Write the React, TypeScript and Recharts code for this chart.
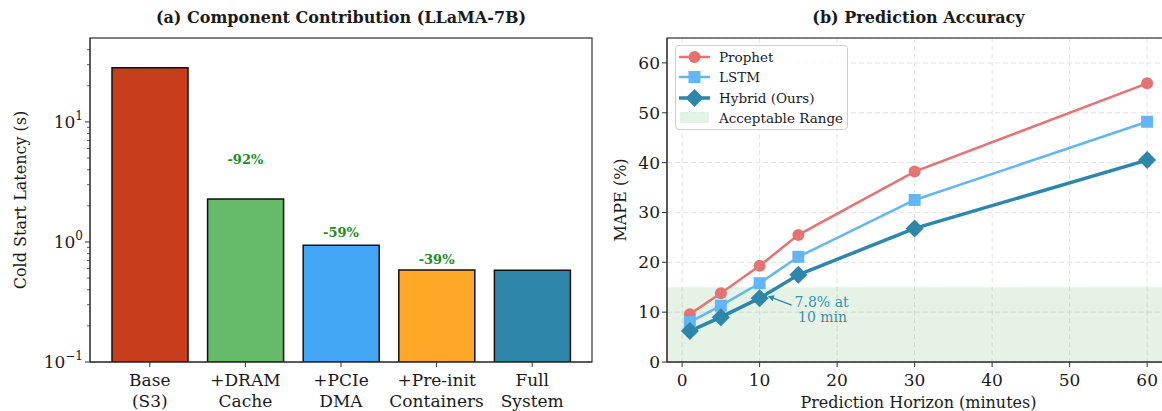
import React from 'react';
import {
  ComposedChart,
  Bar,
  Cell,
  Scatter,
  XAxis,
  YAxis,
  LineChart,
  Line,
  CartesianGrid,
  ReferenceArea,
  ReferenceDot,
  Legend,
  usePlotArea,
} from 'recharts';

const FONT = '"DejaVu Serif", serif';
const AXIS = '#333';
const TEXT = '#1a1a1a';

// (a) component contribution, LLaMA-7B
const stages = ['Base\n(S3)', '+DRAM\nCache', '+PCIe\nDMA', '+Pre-init\nContainers', 'Full\nSystem'];
const latency = [28.2, 2.28, 0.94, 0.585, 0.58];
const stageColors = ['#c73e1d', '#66bb6a', '#42a5f5', '#ffa726', '#2e86ab'];
const reduction = ['', '-92%', '-59%', '-39%', ''];
const reductionAt = [null, 4.9, 1.21, 0.71, null];
const majorTicks = [0.1, 1, 10];
const majorExp = ['\u22121', '0', '1'];
const minorTicks = [0.2, 0.3, 0.4, 0.5, 0.6, 0.7, 0.8, 0.9, 2, 3, 4, 5, 6, 7, 8, 9, 20, 30, 40];

// (b) prediction accuracy
const horizon = [1, 5, 10, 15, 30, 60];
const prophet = [9.6, 13.8, 19.3, 25.5, 38.2, 55.9];
const lstm = [8.0, 11.3, 15.8, 21.1, 32.5, 48.2];
const hybrid = [6.2, 9.0, 12.8, 17.5, 26.8, 40.5];
const acceptableMax = 15;
const xTicks = [0, 10, 20, 30, 40, 50, 60];
const yTicks = [0, 10, 20, 30, 40, 50, 60];
const xDomain = [-1.95, 62.95];

const barData = stages.map((name, i) => ({
  name,
  latency: latency[i],
  pct: reduction[i],
  pctAt: reductionAt[i],
}));

const lineData = horizon.map((h, i) => ({ h, prophet: prophet[i], lstm: lstm[i], hybrid: hybrid[i] }));

const series = [
  { key: 'prophet', name: 'Prophet', color: '#e57373', width: 2.5, marker: 'circle' },
  { key: 'lstm', name: 'LSTM', color: '#64b5f6', width: 2.5, marker: 'square' },
  { key: 'hybrid', name: 'Hybrid (Ours)', color: '#2e86ab', width: 3.5, marker: 'diamond' },
];

// box around the plot area (matplotlib spines)
const PlotFrame = () => {
  const area = usePlotArea();
  if (!area) return null;
  return <rect x={area.x} y={area.y} width={area.width} height={area.height} fill="none" stroke={AXIS} strokeWidth={1.2} />;
};

const Marker = ({ kind, cx, cy, color }: any) => {
  if (!Number.isFinite(cx) || !Number.isFinite(cy)) return null;
  if (kind === 'circle') return <circle cx={cx} cy={cy} r={6} fill={color} />;
  if (kind === 'square') return <rect x={cx - 6} y={cy - 6} width={12} height={12} fill={color} />;
  return <path d={`M${cx},${cy - 9}L${cx + 9},${cy}L${cx},${cy + 9}L${cx - 9},${cy}Z`} fill={color} />;
};

const LogTick = ({ x, y, payload }: any) => {
  const k = majorTicks.indexOf(payload.value);
  const major = k >= 0;
  return (
    <g>
      <line x1={x - (major ? 5 : 3)} x2={x} y1={y} y2={y} stroke={AXIS} strokeWidth={major ? 1 : 0.8} />
      {major && (
        <text x={x - 7} y={y + 6} textAnchor="end" fontSize={17} fill={TEXT}>
          10<tspan dy={-8} fontSize={12}>{majorExp[k]}</tspan>
        </text>
      )}
    </g>
  );
};

const StageTick = ({ x, y, payload }: any) => {
  const lines = String(payload.value).split('\n');
  return (
    <text x={x} y={y} textAnchor="middle" fontSize={17} fill={TEXT}>
      {lines.map((l, i) => (
        <tspan key={i} x={x} dy={i === 0 ? 17 : 21}>
          {l}
        </tspan>
      ))}
    </text>
  );
};

const PctLabel = (p: any) => {
  if (!p.payload || !p.payload.pct || !Number.isFinite(p.cy)) return <g />;
  return (
    <text x={p.cx} y={p.cy} textAnchor="middle" dominantBaseline="central" fontSize={13} fontWeight="bold" fill="#228b22">
      {p.payload.pct}
    </text>
  );
};

const Callout = (p: any) => {
  const { cx, cy } = p;
  if (!Number.isFinite(cx)) return <g />;
  const c = '#3a8fb7';
  return (
    <g>
      <line x1={cx + 32} y1={cy + 7} x2={cx + 11} y2={cy - 1} stroke="#2e86ab" strokeWidth={1.3} />
      <path d={`M${cx + 8},${cy - 2}L${cx + 15},${cy - 3}L${cx + 13},${cy + 3}Z`} fill="#2e86ab" />
      <text x={cx + 62} y={cy + 4} textAnchor="middle" dominantBaseline="central" fontSize={14} fill={c}>
        7.8% at
      </text>
      <text x={cx + 63} y={cy + 19} textAnchor="middle" dominantBaseline="central" fontSize={14} fill={c}>
        10 min
      </text>
    </g>
  );
};

const LegendBox = () => (
  <div
    style={{
      width: 171,
      height: 82,
      border: '1px solid #cfcfcf',
      borderRadius: 4,
      background: 'rgba(255,255,255,0.8)',
      fontFamily: FONT,
      fontSize: 13.5,
      color: TEXT,
      paddingTop: 1,
      boxSizing: 'content-box',
    }}
  >
    {series.map((s) => (
      <div key={s.key} style={{ display: 'flex', alignItems: 'center', height: 20.3 }}>
        <svg width={43} height={20}>
          <line x1={3} x2={34} y1={10} y2={10} stroke={s.color} strokeWidth={s.width} />
          <Marker kind={s.marker} cx={18.5} cy={10} color={s.color} />
        </svg>
        <span>{s.name}</span>
      </div>
    ))}
    <div style={{ display: 'flex', alignItems: 'center', height: 20.3 }}>
      <svg width={43} height={20}>
        <rect x={4} y={4} width={29} height={11} fill="#4caf50" fillOpacity={0.15} />
      </svg>
      <span>Acceptable Range</span>
    </div>
  </div>
);

const titleStyle: React.CSSProperties = {
  position: 'absolute',
  top: 8,
  fontSize: 16,
  fontWeight: 'bold',
  textAlign: 'center',
  lineHeight: '20px',
  color: TEXT,
};

const ComponentChart = () => (
  <div style={{ position: 'absolute', left: 0, top: 0 }}>
    <ComposedChart width={600} height={411} data={barData} margin={{ top: 38, right: 8, bottom: 0, left: 0 }}>
      <CartesianGrid vertical={false} yAxisId="grid" stroke="#e2e2e2" strokeDasharray="5 3" />
      <XAxis
        dataKey="name"
        padding={{ left: 12, right: 12 }}
        height={49}
        tickSize={5}
        interval={0}
        tick={<StageTick />}
        stroke={AXIS}
      />
      <YAxis
        scale="log"
        domain={[0.1, 50]}
        allowDataOverflow
        ticks={[...majorTicks, ...minorTicks]}
        interval={0}
        width={90}
        tickLine={false}
        tickSize={0}
        tickMargin={0}
        tick={<LogTick />}
        stroke={AXIS}
        label={({ viewBox }: any) => (
          <text
            x={viewBox.x + 20}
            y={viewBox.y + viewBox.height / 2}
            transform={`rotate(-90 ${viewBox.x + 20} ${viewBox.y + viewBox.height / 2})`}
            textAnchor="middle"
            dominantBaseline="central"
            fontSize={16}
            fill={TEXT}
          >
            Cold Start Latency (s)
          </text>
        )}
      />
      <YAxis
        yAxisId="grid"
        scale="log"
        domain={[0.1, 50]}
        allowDataOverflow
        ticks={majorTicks.slice(1)}
        interval={0}
        orientation="right"
        width={0}
        tick={false}
        tickLine={false}
        axisLine={false}
      />
      <Bar dataKey="latency" barSize={76} stroke="#111" strokeWidth={1.5} isAnimationActive={false}>
        {barData.map((d, i) => (
          <Cell key={d.name} fill={stageColors[i]} />
        ))}
      </Bar>
      <Scatter dataKey="pctAt" shape={PctLabel} isAnimationActive={false} />
      <PlotFrame />
    </ComposedChart>
    <div style={{ ...titleStyle, left: 90, width: 502 }}>(a) Component Contribution (LLaMA-7B)</div>
  </div>
);

const AccuracyChart = () => (
  <div style={{ position: 'absolute', left: 580, top: 0 }}>
    <LineChart width={600} height={411} data={lineData} margin={{ top: 38, right: 10, bottom: 0, left: 0 }}>
      <CartesianGrid stroke="#e3e3e3" strokeDasharray="5 3" />
      <ReferenceArea
        x1={xDomain[0]}
        x2={xDomain[1]}
        y1={0}
        y2={acceptableMax}
        fill="#4caf50"
        fillOpacity={0.15}
        stroke="none"
        ifOverflow="visible"
      />
      <XAxis
        type="number"
        dataKey="h"
        domain={xDomain}
        allowDataOverflow
        ticks={xTicks}
        interval={0}
        height={49}
        tickSize={5}
        tickMargin={7}
        tick={{ fontSize: 17, fill: TEXT }}
        stroke={AXIS}
        label={({ viewBox }: any) => (
          <text x={viewBox.x + viewBox.width / 2} y={viewBox.y + 46} textAnchor="middle" fontSize={16} fill={TEXT}>
            Prediction Horizon (minutes)
          </text>
        )}
      />
      <YAxis
        domain={[0, 65]}
        allowDataOverflow
        ticks={yTicks}
        interval={0}
        width={87}
        tickSize={5}
        tickMargin={2}
        tick={{ fontSize: 17, fill: TEXT }}
        stroke={AXIS}
        label={({ viewBox }: any) => (
          <text
            x={viewBox.x + 40}
            y={viewBox.y + viewBox.height / 2}
            transform={`rotate(-90 ${viewBox.x + 40} ${viewBox.y + viewBox.height / 2})`}
            textAnchor="middle"
            dominantBaseline="central"
            fontSize={16}
            fill={TEXT}
          >
            MAPE (%)
          </text>
        )}
      />
      {series.map((s) => (
        <Line
          key={s.key}
          dataKey={s.key}
          name={s.name}
          stroke={s.color}
          strokeWidth={s.width}
          isAnimationActive={false}
          dot={(p: any) => <Marker key={`${s.key}-${p.index}`} kind={s.marker} cx={p.cx} cy={p.cy} color={s.color} />}
          activeDot={false}
        />
      ))}
      <ReferenceDot x={horizon[2]} y={hybrid[2]} shape={Callout} ifOverflow="visible" />
      <PlotFrame />
      <Legend
        layout="vertical"
        align="center"
        verticalAlign="middle"
        content={() => <LegendBox />}
        wrapperStyle={{ left: 95, top: 45, width: 173, height: 84 }}
      />
    </LineChart>
    <div style={{ ...titleStyle, left: 87, width: 503 }}>(b) Prediction Accuracy</div>
  </div>
);

export default function App() {
  return (
    <div
      style={{
        position: 'fixed',
        left: 0,
        top: 0,
        width: 1162,
        height: 411,
        overflow: 'hidden',
        background: '#fff',
        fontFamily: FONT,
      }}
    >
      <ComponentChart />
      <AccuracyChart />
    </div>
  );
}
